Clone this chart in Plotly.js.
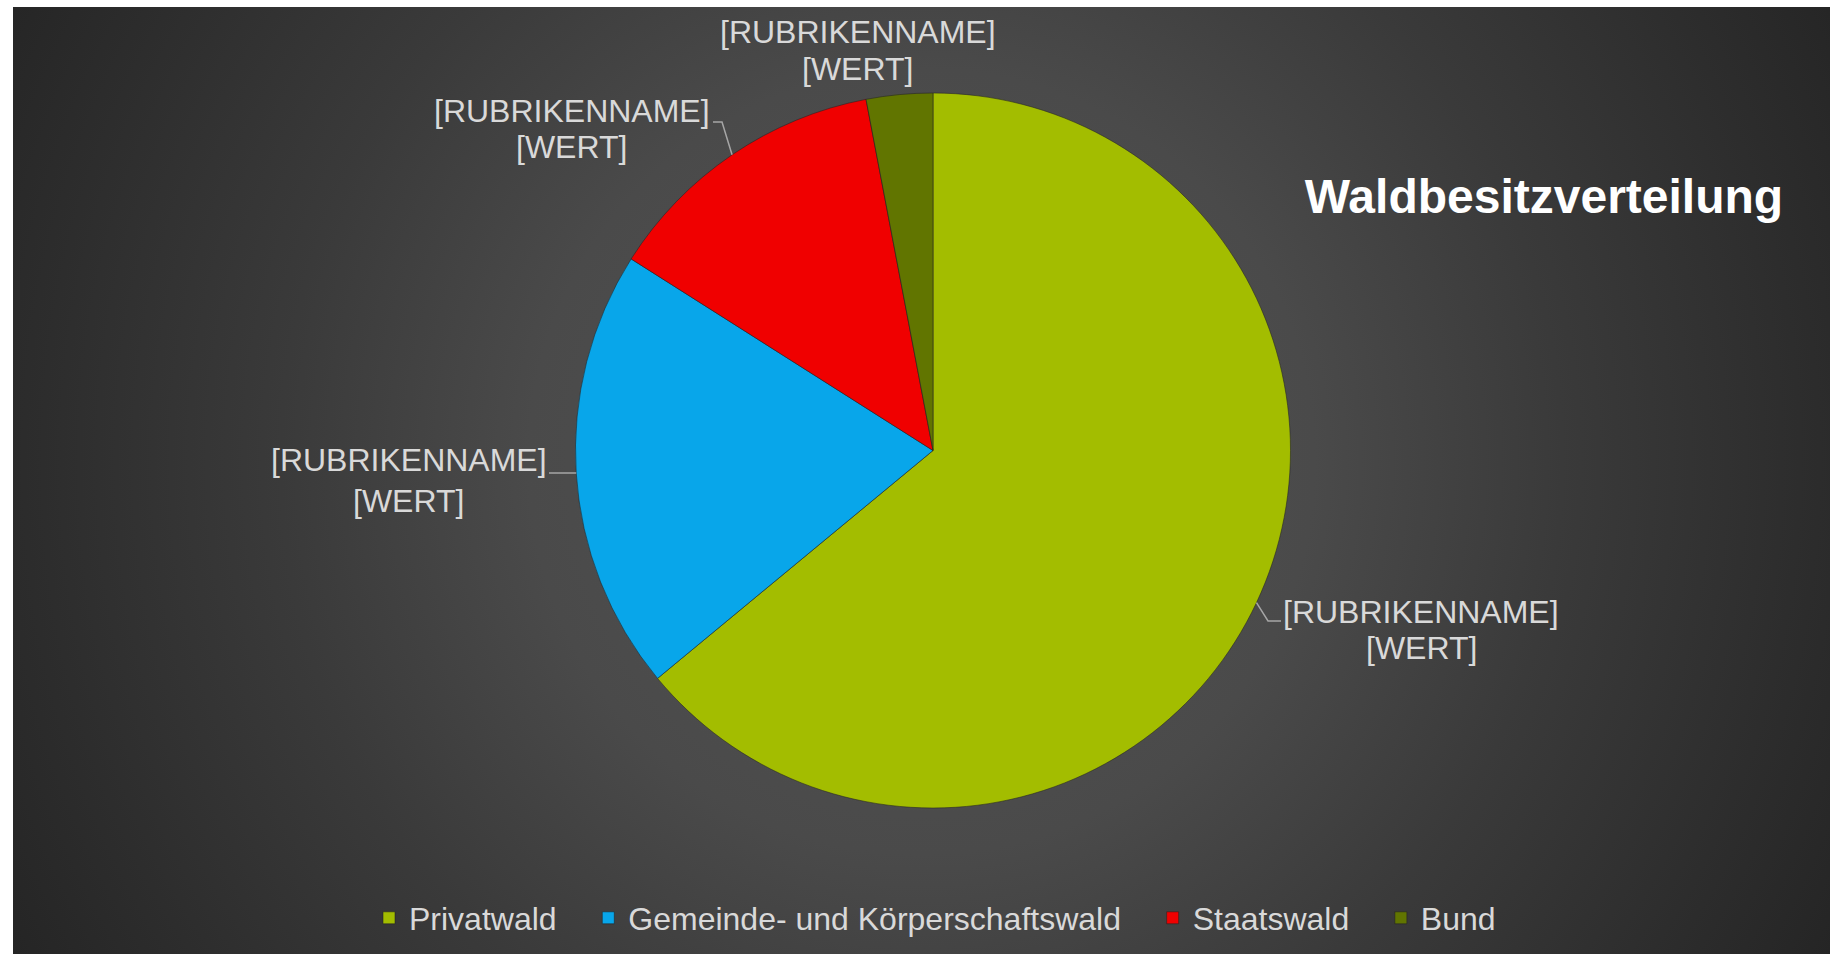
<!DOCTYPE html>
<html>
<head>
<meta charset="utf-8">
<script src="https://cdn.plot.ly/plotly-3.0.1.min.js"></script>
<style>
  html, body { margin: 0; padding: 0; background: #ffffff; width: 1831px; height: 954px; overflow: hidden; }
  #bg {
    position: absolute; left: 13px; top: 7px; width: 1817px; height: 947px;
    background: radial-gradient(circle farthest-corner at 50% 48%, #545454 0%, #4a4a4a 38%, #3a3a3a 62%, #2d2d2d 85%, #252525 100%);
  }
  #chart { position: absolute; left: 0; top: 0; width: 1831px; height: 954px; }
</style>
</head>
<body>
<div id="bg"></div>
<div id="chart"></div>
<script>
// ---- data ----
const categories = ["Privatwald", "Gemeinde- und Körperschaftswald", "Staatswald", "Bund"];
const shares = [64, 20, 13, 3];
const labelName = "[RUBRIKENNAME]";
const labelValue = "[WERT]";
const chartTitle = "Waldbesitzverteilung";

// ---- style / layout ----
const W = 1831, H = 954;
const colors = ["#a3bd00", "#08a6ea", "#f00000", "#617500"];
const pieCx = 933, pieCy = 450.5, pieR = 357.5;
const labelFont = { family: "Liberation Sans, Arial, sans-serif", size: 32, color: "#d9d9d9" };

// label line centres (px) and connector bends (px), one per category
const labelPos = [
  { cx: 1421, y1: 611.5, y2: 648, bend: [1268, 621], end: [1281, 621] },
  { cx: 408.5, y1: 460.5, y2: 500.5, bend: null, end: [549, 473] },
  { cx: 571.5, y1: 110.5, y2: 147, bend: [722, 122], end: [713, 122] },
  { cx: 857.5, y1: 31.5, y2: 68.5, bend: null, end: null }
];

const px = x => x / W;
const py = y => 1 - y / H;

// anchors on the pie rim at the middle angle of each slice (from the data)
const total = shares.reduce((a, b) => a + b, 0);
let cum = 0;
const anchors = shares.map(v => {
  const mid = (cum + v / 2) / total * 2 * Math.PI;
  cum += v;
  return [pieCx + pieR * Math.sin(mid), pieCy - pieR * Math.cos(mid)];
});

const annotations = [];
labelPos.forEach(p => {
  [[labelName, p.y1], [labelValue, p.y2]].forEach(([t, y]) => {
    annotations.push({
      xref: "paper", yref: "paper", x: px(p.cx), y: py(y),
      xanchor: "center", yanchor: "middle", showarrow: false,
      text: t, font: labelFont
    });
  });
});

const shapes = [];
labelPos.forEach((p, i) => {
  if (!p.end) return;
  const a = anchors[i];
  let d = `M${px(a[0])},${py(a[1])}`;
  if (p.bend) d += ` L${px(p.bend[0])},${py(p.bend[1])}`;
  d += ` L${px(p.end[0])},${py(p.end[1])}`;
  shapes.push({ type: "path", xref: "paper", yref: "paper", path: d,
    line: { color: "#a6a6a6", width: 1.5 } });
});

const pad = "\u00a0\u00a0\u00a0";
const trace = {
  type: "pie",
  labels: categories.map((c, i) => i < categories.length - 1 ? c + pad : c),
  values: shares,
  sort: false,
  direction: "clockwise",
  rotation: 0,
  textinfo: "none",
  hoverinfo: "label+percent",
  marker: { colors: colors, line: { color: "rgba(35,35,35,0.55)", width: 1 } },
  domain: { x: [px(pieCx - pieR), px(pieCx + pieR)], y: [py(pieCy + pieR), py(pieCy - pieR)] }
};

const layout = {
  width: W, height: H,
  margin: { l: 0, r: 0, t: 0, b: 0 },
  paper_bgcolor: "rgba(0,0,0,0)",
  plot_bgcolor: "rgba(0,0,0,0)",
  title: {
    text: "<b>" + chartTitle + "</b>",
    x: px(1544), xanchor: "center", xref: "paper",
    y: py(196), yanchor: "middle", yref: "paper",
    font: { family: "Liberation Sans, Arial, sans-serif", size: 48, color: "#ffffff" }
  },
  showlegend: true,
  legend: {
    orientation: "h", x: px(935), xanchor: "center", y: py(918), yanchor: "middle",
    font: { family: "Liberation Sans, Arial, sans-serif", size: 32, color: "#d9d9d9" },
    bgcolor: "rgba(0,0,0,0)", traceorder: "normal"
  },
  annotations: annotations,
  shapes: shapes
};

Plotly.newPlot("chart", [trace], layout, { displayModeBar: false, staticPlot: true });
</script>
</body>
</html>
